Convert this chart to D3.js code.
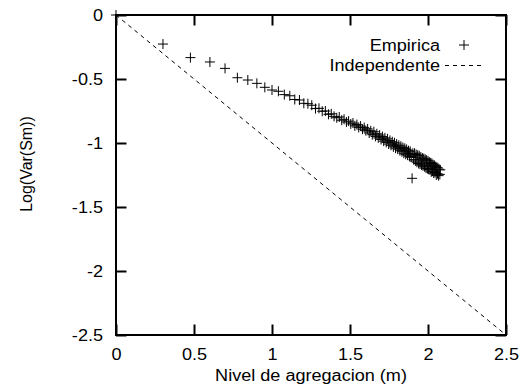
<!DOCTYPE html>
<html>
<head>
<meta charset="utf-8">
<script src="https://cdn.jsdelivr.net/npm/d3@7"></script>
<style>
  html, body { margin: 0; padding: 0; background: #fff; }
  svg { display: block; }
</style>
</head>
<body>
<script>
// Aggregation level m as log10(m), and Log(Var(Sm))
const logM = [0, 0.301, 0.477, 0.602, 0.699, 0.778, 0.845, 0.903, 0.954, 1.000,
  1.041, 1.079, 1.114, 1.146, 1.176, 1.204, 1.230, 1.255, 1.279, 1.301,
  1.322, 1.342, 1.362, 1.380, 1.398, 1.415, 1.431, 1.447, 1.462, 1.477,
  1.491, 1.505, 1.519, 1.531, 1.544, 1.556, 1.568, 1.580, 1.591, 1.602,
  1.613, 1.623, 1.633, 1.643, 1.653, 1.663, 1.672, 1.681, 1.690, 1.699,
  1.708, 1.716, 1.724, 1.732, 1.740, 1.748, 1.756, 1.763, 1.771, 1.778,
  1.785, 1.792, 1.799, 1.806, 1.813, 1.820, 1.826, 1.833, 1.839, 1.845,
  1.851, 1.857, 1.863, 1.869, 1.875, 1.881, 1.886, 1.892, 1.898, 1.903,
  1.908, 1.914, 1.919, 1.924, 1.929, 1.934, 1.940, 1.944, 1.949, 1.954,
  1.959, 1.964, 1.968, 1.973, 1.978, 1.982, 1.987, 1.991, 1.996, 2.000,
  2.004, 2.009, 2.013, 2.017, 2.021, 2.025, 2.029, 2.033, 2.037, 2.041,
  2.045, 2.049, 2.053, 2.057, 2.061, 2.064, 2.068, 2.072, 2.076, 2.079];

const logVar = [0, -0.227, -0.333, -0.367, -0.417, -0.490, -0.508, -0.534, -0.565, -0.586,
  -0.596, -0.622, -0.631, -0.660, -0.664, -0.690, -0.693, -0.705, -0.731, -0.729,
  -0.752, -0.750, -0.776, -0.772, -0.792, -0.803, -0.797, -0.822, -0.815, -0.836,
  -0.829, -0.851, -0.844, -0.866, -0.856, -0.878, -0.868, -0.892, -0.880, -0.904,
  -0.890, -0.922, -0.905, -0.935, -0.912, -0.948, -0.928, -0.960, -0.938, -0.972,
  -0.950, -0.985, -0.960, -0.995, -0.968, -1.008, -0.980, -1.018, -0.990, -1.030,
  -0.998, -1.040, -1.008, -1.048, -1.018, -1.060, -1.025, -1.068, -1.035, -1.080,
  -1.042, -1.088, -1.050, -1.095, -1.060, -1.105, -1.065, -1.112, -1.276, -1.080,
  -1.130, -1.080, -1.140, -1.090, -1.150, -1.095, -1.160, -1.100, -1.165, -1.110,
  -1.172, -1.118, -1.178, -1.122, -1.185, -1.128, -1.195, -1.135, -1.200, -1.140,
  -1.205, -1.150, -1.210, -1.155, -1.225, -1.160, -1.220, -1.170, -1.235, -1.175,
  -1.230, -1.185, -1.250, -1.190, -1.240, -1.195, -1.255, -1.205, -1.245, -1.210];

// Independent (theoretical) reference line: slope -1
const indepX = [0, 2.5];
const indepY = [0, -2.5];

const xTicks = [0, 0.5, 1, 1.5, 2, 2.5];
const xTickLabels = ["0", "0.5", "1", "1.5", "2", "2.5"];
const yTicks = [0, -0.5, -1, -1.5, -2, -2.5];
const yTickLabels = ["0", "-0.5", "-1", "-1.5", "-2", "-2.5"];

const xTitle = "Nivel de agregacion (m)";
const yTitle = "Log(Var(Sm))";
const legendLabels = ["Empirica", "Independente"];

// ---------- drawing ----------
const W = 525, H = 391;
const L = 116, R = 506, T = 15, B = 335;
const SX = 1.13; // horizontal stretch of the glyphs
const FONT = "'Liberation Sans', Arial, Helvetica, sans-serif";
const FS = 16;
const TK = 10.5;

const svg = d3.select("body").append("svg")
  .attr("width", W).attr("height", H)
  .style("font-family", FONT);
svg.append("rect").attr("width", W).attr("height", H).attr("fill", "#fff");

const x = d3.scaleLinear().domain([0, 2.5]).range([L, R]);
const y = d3.scaleLinear().domain([-2.5, 0]).range([B, T]);

// inward ticks through d3 axes (tick lines only)
function tickAxis(axis, tx, ty) {
  const g = svg.append("g").attr("transform", `translate(${tx},${ty})`).call(axis);
  g.select(".domain").remove();
  g.selectAll("text").remove();
  g.selectAll(".tick line").attr("stroke", "#000").attr("stroke-width", 2);
  return g;
}
tickAxis(d3.axisBottom(x).tickValues(xTicks).tickSize(-TK).tickFormat(""), 0, B);
tickAxis(d3.axisTop(x).tickValues(xTicks).tickSize(-TK).tickFormat(""), 0, T);
tickAxis(d3.axisLeft(y).tickValues(yTicks).tickSize(-TK).tickFormat(""), L, 0);
tickAxis(d3.axisRight(y).tickValues(yTicks).tickSize(-TK).tickFormat(""), R, 0);

// tick labels
function labelAxis(axis, tx, ty) {
  const g = svg.append("g").attr("transform", `translate(${tx},${ty})`).call(axis);
  g.select(".domain").remove();
  g.selectAll(".tick line").remove();
  g.selectAll("text").attr("fill", "#000").style("font-size", FS + "px").style("font-family", FONT);
  return g;
}
const gB = labelAxis(d3.axisBottom(x).tickValues(xTicks).tickSize(0).tickPadding(14)
  .tickFormat((d, i) => xTickLabels[i]), 0, B);
gB.selectAll(".tick text").attr("y", 14).attr("transform", `scale(${SX},1)`);
const gL = labelAxis(d3.axisLeft(y).tickValues(yTicks).tickSize(0).tickPadding(13)
  .tickFormat((d, i) => yTickLabels[i]), L, 0);
gL.selectAll(".tick text").attr("x", -13 / SX).attr("transform", `scale(${SX},1)`);

// independent line
svg.append("path")
  .attr("d", d3.line().x(d => x(d[0])).y(d => y(d[1]))(indepX.map((v, i) => [v, indepY[i]])))
  .attr("fill", "none").attr("stroke", "#000").attr("stroke-width", 1)
  .attr("stroke-dasharray", "4,4");

// border
svg.append("rect").attr("x", L).attr("y", T).attr("width", R - L).attr("height", B - T)
  .attr("fill", "none").attr("stroke", "#000").attr("stroke-width", 2);

// empirical points
const plus = "M-5,0H5M0,-5V5";
svg.append("g").selectAll("path").data(logM.map((v, i) => [v, logVar[i]])).join("path")
  .attr("transform", d => `translate(${x(d[0])},${y(d[1])})`)
  .attr("d", plus).attr("fill", "none").attr("stroke", "#000").attr("stroke-width", 1);

// text helper
function hText(px, py, str, anchor, rot) {
  const g = svg.append("g").attr("transform", `translate(${px},${py})` + (rot ? ` rotate(${rot})` : ` scale(${SX},1)`));
  g.append("text").attr("text-anchor", anchor).style("font-size", FS + "px").attr("fill", "#000").text(str);
}

// legend
hText(440, 51, legendLabels[0], "end");
hText(440, 71, legendLabels[1], "end");
svg.append("path").attr("transform", "translate(464,45)").attr("d", plus)
  .attr("fill", "none").attr("stroke", "#000").attr("stroke-width", 1);
svg.append("line").attr("x1", 445).attr("x2", 485).attr("y1", 65.5).attr("y2", 65.5)
  .attr("stroke", "#000").attr("stroke-width", 1).attr("stroke-dasharray", "4,4");

// titles
hText((L + R) / 2, 381, xTitle, "middle");
hText(32, 164, yTitle, "middle", -90);
</script>
</body>
</html>
